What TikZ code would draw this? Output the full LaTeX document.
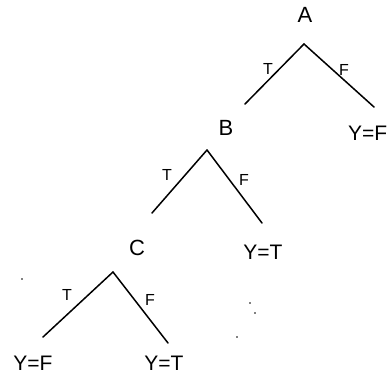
\documentclass[tikz,border=0pt]{standalone}
\usepackage{fontspec}
\setmainfont{Liberation Sans}
\begin{document}
\begin{tikzpicture}[x=1pt,y=-1pt,
  edge/.style={line width=1.5pt,line cap=round},
  varlab/.style={font=\fontsize{22}{24}\selectfont,inner sep=0pt},
  leaflab/.style={font=\fontsize{21}{24}\selectfont,inner sep=0pt},
  brlab/.style={font=\fontsize{16}{18}\selectfont,inner sep=0pt},
  speck/.style={fill=black,circle,inner sep=0pt,minimum size=1.6pt}]
\useasboundingbox (0,0) rectangle (388,383);
% node A
\node[varlab] (A) at (305,15) {A};
\coordinate (Aap) at (304,44);
\coordinate (Al) at (245,104);
\coordinate (Ar) at (374,107);
\node[leaflab,anchor=east] (YF1) at (387.5,133) {Y=F};
\draw[edge] (Aap) -- (Al);
\draw[edge] (Aap) -- (Ar);
\node[brlab] (TA) at (268,69) {T};
\node[brlab] (FA) at (344,70) {F};
% node B
\node[varlab] (B) at (226,128) {B};
\coordinate (Bap) at (207,150);
\coordinate (Bl) at (152,213);
\coordinate (Br) at (262,223);
\node[leaflab] (YT1) at (263,252) {Y=T};
\draw[edge] (Bap) -- (Bl);
\draw[edge] (Bap) -- (Br);
\node[brlab] (TB) at (167,175) {T};
\node[brlab] (FB) at (244,180) {F};
% node C
\node[varlab] (C) at (137,248) {C};
\coordinate (Cap) at (113,272);
\coordinate (Cl) at (43,337);
\coordinate (Cr) at (168,343);
\node[leaflab] (YF2) at (33,363) {Y=F};
\node[leaflab] (YT2) at (164,363) {Y=T};
\draw[edge] (Cap) -- (Cl);
\draw[edge] (Cap) -- (Cr);
\node[brlab] (TC) at (67,295) {T};
\node[brlab] (FC) at (150,300) {F};
% specks
\node[speck] (s1) at (22,279) {};
\node[speck] (s2) at (250,303) {};
\node[speck] (s3) at (255,313) {};
\node[speck] (s4) at (237,337) {};
\end{tikzpicture}
\end{document}
